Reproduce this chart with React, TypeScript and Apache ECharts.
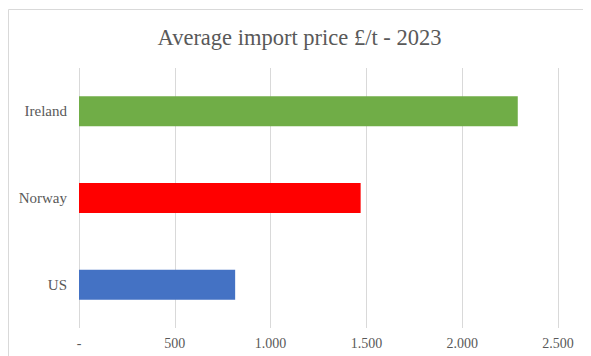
import React, { useEffect, useRef } from "react";
import * as echarts from "echarts";

const categories = ["US", "Norway", "Ireland"];
const values = [815, 1470, 2290];
const barColors = ["#4472C4", "#FF0000", "#70AD47"];
const titleText = "Average import price £/t - 2023";

const fmt = (v: number) => {
  if (v === 0) return "-";
  return String(v).replace(/\B(?=(\d{3})+(?!\d))/g, ".");
};

export default function App() {
  const ref = useRef<HTMLDivElement>(null);
  useEffect(() => {
    if (!ref.current) return;
    const chart = echarts.init(ref.current, null, { renderer: "svg" });
    chart.setOption({
      animation: false,
      backgroundColor: "#ffffff",
      title: {
        text: titleText,
        left: "center",
        top: 13,
        textStyle: {
          fontFamily: "Liberation Serif",
          fontSize: 22.5,
          fontWeight: "normal",
          color: "#595959",
        },
      },
      graphic: [
        {
          type: "polyline",
          shape: { points: [[0.5, 400], [0.5, 1.5], [600, 1.5]] },
          style: { stroke: "#d9d9d9", lineWidth: 1, fill: "none" },
          silent: true,
        },
      ],
      grid: { left: 71, right: 33, top: 60, bottom: 28 },
      xAxis: {
        type: "value",
        min: 0,
        max: 2500,
        interval: 500,
        axisLine: { show: false },
        axisTick: { show: false },
        splitLine: { show: true, lineStyle: { color: "#d9d9d9", width: 1 } },
        axisLabel: {
          formatter: (v: number) => fmt(v),
          fontFamily: "Liberation Serif",
          fontSize: 14,
          color: "#595959",
          margin: 8,
        },
      },
      yAxis: {
        type: "category",
        data: categories,
        axisLine: { show: false },
        axisTick: { show: false },
        axisLabel: {
          fontFamily: "Liberation Serif",
          fontSize: 15,
          color: "#595959",
          margin: 12,
        },
      },
      series: [
        {
          type: "bar",
          data: values.map((v, i) => ({ value: v, itemStyle: { color: barColors[i] } })),
          barWidth: 30,
        },
      ],
    });
    return () => chart.dispose();
  }, []);
  return <div ref={ref} style={{ width: 583, height: 348 }} />;
}
